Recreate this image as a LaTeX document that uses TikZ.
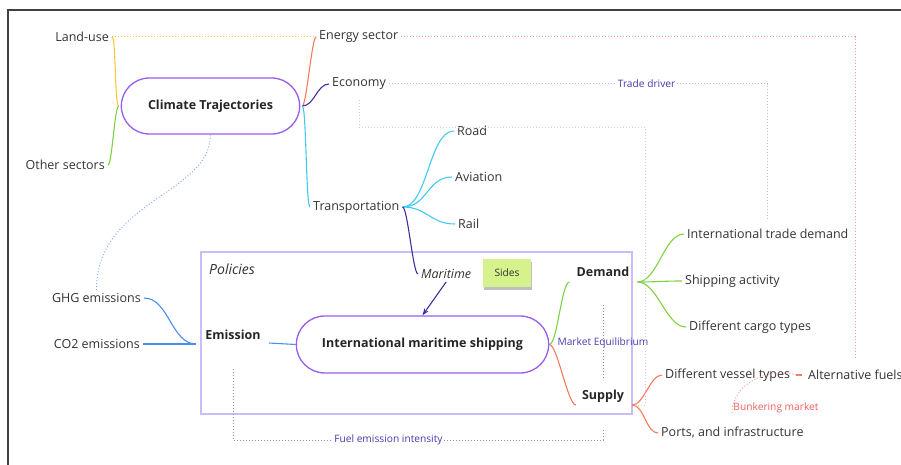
\documentclass[tikz,border=0pt]{standalone}
\usepackage{fontspec}
\setmainfont{Open Sans}
\usepackage{tikz}
\usetikzlibrary{arrows.meta,shapes.misc,shadows,calc}

\definecolor{ink}{HTML}{333333}
\definecolor{pillpur}{HTML}{9A5CF0}
\definecolor{yel}{HTML}{F5C840}
\definecolor{grn}{HTML}{7ED340}
\definecolor{org}{HTML}{F47C5C}
\definecolor{dpur}{HTML}{3E2FA0}
\definecolor{cyn}{HTML}{3FCBF5}
\definecolor{blu}{HTML}{4C8EF0}
\definecolor{lav}{HTML}{C6BEF6}
\definecolor{lavdot}{HTML}{BDB5F0}
\definecolor{tagpur}{HTML}{4A3AB0}
\definecolor{bunkred}{HTML}{E8605A}
\definecolor{salm}{HTML}{F7A090}
\definecolor{sticky}{HTML}{D6F28C}

\begin{document}
\begin{tikzpicture}[x=1pt,y=-1pt,
  leaf/.style={text=ink,inner sep=3pt,font=\fontsize{12.5}{15}\selectfont},
  hub/.style={text=black!85,inner sep=3pt,font=\fontsize{12.5}{15}\selectfont\bfseries},
  pill/.style={rounded rectangle,draw=pillpur,line width=1.3pt,fill=white,
    text=black!85,font=\fontsize{12.5}{15}\selectfont\bfseries},
  tag/.style={text=tagpur,inner sep=1.5pt,font=\fontsize{10.2}{12}\selectfont},
  br/.style={line width=1.1pt},
  dot/.style={line width=1pt,dotted},
  policybox/.style={draw=lav,line width=2.2pt,minimum width=431pt,minimum height=162pt},
  stickynote/.style={fill=sticky,minimum width=48pt,minimum height=28pt,text=ink,
    font=\fontsize{10.2}{12}\selectfont,
    drop shadow={shadow xshift=1pt,shadow yshift=-3pt,fill=black,opacity=.25}}]
  \useasboundingbox (0,0) rectangle (901,465);
  \draw[black!75,line width=1.6pt] (8,465) -- (8,10) -- (901,10);

  % policies frame
  \node[policybox] (policy) at (416.5,333) {};
  \node[leaf,font=\fontsize{14}{16}\selectfont\itshape,anchor=west] (policies) at (206,269) {Policies};

  % climate side
  \node[pill,minimum width=185pt,minimum height=56pt] (ct) at (210.5,106) {Climate Trajectories};
  \node[leaf,anchor=east] (landuse) at (112,37) {Land-use};
  \node[leaf,anchor=east] (other) at (108,165) {Other sectors};
  \node[leaf,anchor=west] (energy) at (316,37) {Energy sector};
  \node[leaf,anchor=west] (economy) at (329,84) {Economy};
  \node[leaf,anchor=west] (transp) at (310,207) {Transportation};
  \node[leaf,anchor=west] (road) at (454,131) {Road};
  \node[leaf,anchor=west] (aviation) at (452,177) {Aviation};
  \node[leaf,anchor=west] (rail) at (455,224) {Rail};
  \node[leaf,anchor=west,font=\fontsize{12.5}{15}\selectfont\itshape] (maritime) at (418,274) {Maritime};
  \node[stickynote] (sides) at (507,273) {Sides};

  % shipping side
  \node[pill,minimum width=259pt,minimum height=57pt] (ims) at (422.5,344.5) {International maritime shipping};
  \node[hub] (emission) at (233,335) {Emission};
  \node[hub] (demand) at (603,272) {Demand};
  \node[hub] (supply) at (603,396) {Supply};
  \node[leaf,anchor=east] (ghg) at (144,298) {GHG emissions};
  \node[leaf,anchor=east] (co2) at (143,344) {CO2 emissions};
  \node[leaf,anchor=west] (itd) at (684,234) {International trade demand};
  \node[leaf,anchor=west] (shipact) at (682,281) {Shipping activity};
  \node[leaf,anchor=west] (cargo) at (686,327) {Different cargo types};
  \node[leaf,anchor=west] (vessel) at (662,375) {Different vessel types};
  \node[leaf,anchor=west] (altfuel) at (805,375) {Alternative fuels};
  \node[leaf,anchor=west] (ports) at (658,433) {Ports, and infrastructure};
  \node[tag] (market) at (603,343) {Market Equilibrium};
  \node[tag,text=bunkred] (bunker) at (776,408) {Bunkering market};

  \coordinate (ctl) at ([xshift=-2pt]ct.west);
  \coordinate (ctr) at ([xshift=2pt]ct.east);
  \coordinate (emitin) at ([xshift=-6pt,yshift=-9pt]emission.west);
  \coordinate (emitout) at ([xshift=5pt,yshift=-8pt]emission.east);
  \coordinate (demin) at ([xshift=-4pt,yshift=-10pt]demand.west);
  \coordinate (demout) at ([xshift=5pt,yshift=-10pt]demand.east);
  \coordinate (supin) at ([xshift=-3pt,yshift=-9pt]supply.west);
  \coordinate (supout) at ([xshift=5pt,yshift=-9pt]supply.east);
  \coordinate (vafmid) at ($(vessel.east)!0.5!(altfuel.west)$);

  % mind map branches
  \path[br]
    (ctl) edge[yel,out=180,in=0,distance=4pt] (landuse.east)
          edge[grn,out=180,in=0,distance=4pt] (other.east)
    (ctr) edge[org,out=0,in=180,distance=4pt] (energy.west)
          edge[dpur,out=0,in=180,distance=12pt] (economy.west)
          edge[cyn,out=0,in=180,distance=4pt] (transp.west)
    (transp.east) edge[cyn,out=0,in=180,distance=25pt] (road.west)
                  edge[cyn,out=0,in=180,distance=25pt] (aviation.west)
                  edge[cyn,out=0,in=180,distance=25pt] (rail.west)
                  edge[dpur,out=0,in=180,distance=5pt] (maritime.west)
    (ghg.east) edge[blu,out=0,in=180,distance=25pt] (emitin)
    (co2.east) edge[blu] (emitin)
    (emitout) edge[blu] (ims.west)
    (ims.east) edge[grn,out=0,in=180,distance=8pt] (demin)
               edge[org,out=0,in=180,distance=8pt] (supin)
    (demout) edge[grn,out=0,in=180,distance=20pt] (itd.west)
             edge[grn,out=0,in=180,distance=20pt] (shipact.west)
             edge[grn,out=0,in=180,distance=20pt] (cargo.west)
    (supout) edge[org,out=0,in=180,distance=12pt] (vessel.west)
             edge[org,out=0,in=180,distance=12pt] (ports.west)
    (vessel.east) edge[org,shorten <=3pt,shorten >=3pt] (altfuel.west);
  \draw[br,dpur,-{Stealth[length=7pt,width=5pt]}] (maritime.south) -- (ims.north);

  % dotted links
  \draw[dot,yel] (landuse.east) -- (energy.west);
  \draw[dot,salm,shorten >=9pt] (energy.east) -| (altfuel.north);
  \draw[dot,lavdot,shorten >=6pt] (economy.east) -| node[pos=0.34,tag,fill=white] (trade) {Trade driver} (itd.north);
  \draw[dot,lavdot!70!white,shorten <=7pt] (economy.south) -- ++(0,34) -| ([xshift=13pt]supout) -- ([xshift=6pt]supout);
  \draw[dot,blu!70!white] (ct.south) .. controls +(0,60) and +(0,-90) .. (ghg.north);
  \draw[dot,tagpur!70!white,shorten <=25pt,shorten >=7pt] (demand.south) -- (supply.north);
  \draw[dot,tagpur!60!white,shorten <=26pt,shorten >=25pt] (emission.south) -- ++(0,97)
    -| node[pos=0.21,tag,fill=white] (fuel) {Fuel emission intensity} (supply.south);
  \draw[dot,salm] (vafmid) .. controls +(-35,-8) and +(0,-30) .. (bunker.south west);
\end{tikzpicture}
\end{document}
